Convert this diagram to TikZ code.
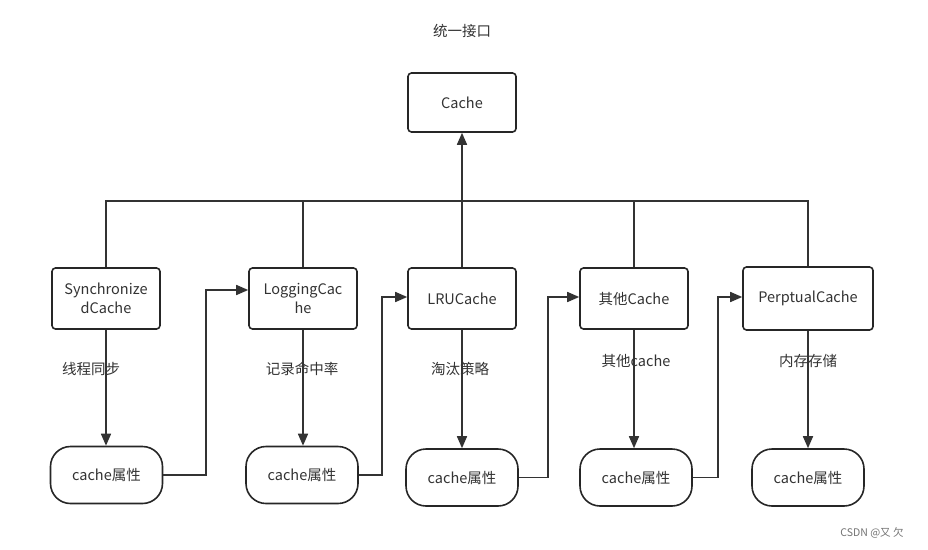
\documentclass[tikz,border=0pt]{standalone}
\usepackage{fontspec}
\setmainfont{Noto Sans CJK SC}
\usetikzlibrary{arrows.meta}
\begin{document}
\begin{tikzpicture}[x=1pt,y=-1pt,
  box/.style={draw=black!85,line width=1.6pt,rounded corners=3.5pt,fill=white,align=center,inner sep=0pt,font=\fontsize{14.5}{19}\selectfont,text=black!80},
  attr/.style={draw=black!85,line width=1.6pt,rounded corners=20pt,fill=white,align=center,inner sep=0pt,minimum width=112pt,minimum height=57pt,font=\fontsize{14.5}{18}\selectfont,text=black!80},
  lbl/.style={font=\fontsize{14.5}{17}\selectfont,text=black!80,inner sep=1pt},
  conn/.style={draw=black!80,line width=1.6pt},
  arr/.style={conn,-{Triangle[length=12pt,width=10pt]}}]
\useasboundingbox (0,0) rectangle (928,549);
\fill[white] (0,0) rectangle (928,549);

\node[lbl] (title) at (462,31) {统一接口};
\node[box,minimum width=108pt,minimum height=59pt] (cache) at (462,102.5) {Cache};

\node[box,minimum width=108pt,minimum height=61pt] (sync) at (106,298.5) {Synchronize\\dCache};
\node[box,minimum width=108pt,minimum height=61pt] (log) at (303,298.5) {LoggingCac\\he};
\node[box,minimum width=108pt,minimum height=61pt] (lru) at (462,298.5) {LRUCache};
\node[box,minimum width=108pt,minimum height=61pt] (other) at (634,298.5) {其他Cache};
\node[box,minimum width=130pt,minimum height=63pt] (perp) at (808,298.5) {PerptualCache};

\node[attr] (a1) at (106.5,475) {cache属性};
\node[attr] (a2) at (302,475) {cache属性};
\node[attr] (a3) at (462,477.5) {cache属性};
\node[attr] (a4) at (636,477.5) {cache属性};
\node[attr] (a5) at (808,477.5) {cache属性};

\coordinate (busL) at (106,201);
\coordinate (busR) at (808,201);
\coordinate (busC) at (462,205);

% bus
\draw[conn] (sync.north) -- (busL) -- (busR) -- (perp.north);
\draw[conn] (log.north) -- (log.north |- busL);
\draw[conn] (lru.north) -- (lru.north |- busC);
\draw[conn] (other.north) -- (other.north |- busL);
\draw[arr] (busC) -- (cache.south);

% down arrows
\draw[arr] (sync.south) -- (sync.south |- a1.north);
\draw[arr] (log.south) -- (log.south |- a2.north);
\draw[arr] (lru.south) -- (lru.south |- a3.north);
\draw[arr] (other.south) -- (other.south |- a4.north);
\draw[arr] (perp.south) -- (perp.south |- a5.north);

% labels on down arrows
\node[lbl] (l1) at (91,369) {线程同步};
\node[lbl] (l2) at (302,369) {记录命中率};
\node[lbl] (l3) at (460,369) {淘汰策略};
\node[lbl] (l4) at (636,361) {其他cache};
\node[lbl] (l5) at (808,361) {内存存储};

% chain connectors
\draw[arr] (a1.east) -| (206,290) -- (log.west |- 0,290);
\draw[arr] (a2.east) -| (382,297) -- (lru.west |- 0,297);
\draw[arr] (a3.east) -| (548,297) -- (other.west |- 0,297);
\draw[arr] (a4.east) -| (718,297) -- (perp.west |- 0,297);

\node[font=\fontsize{10.5}{12}\selectfont,text=black!55] (wm) at (872,533) {CSDN @又 欠};
\end{tikzpicture}
\end{document}
